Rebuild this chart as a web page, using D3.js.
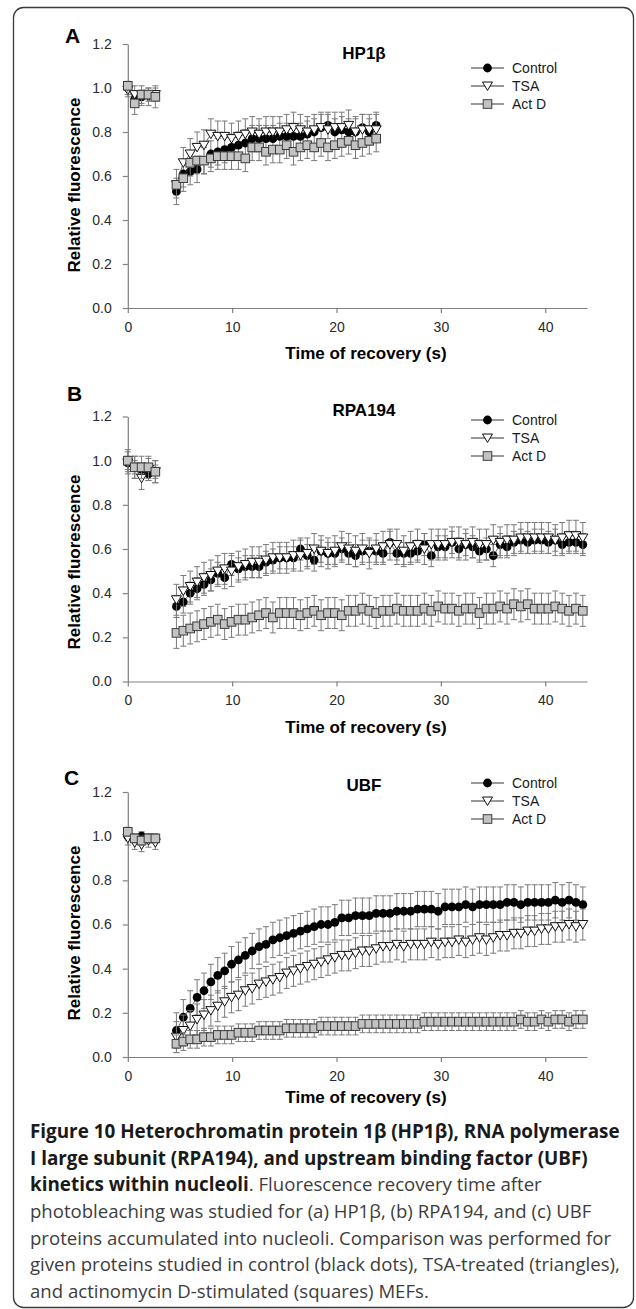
<!DOCTYPE html>
<html>
<head>
<meta charset="utf-8">
<script src="https://cdn.jsdelivr.net/npm/d3@7"></script>
<style>
  body { margin: 0; background: #fff; }
  svg { display: block; }
</style>
</head>
<body>
<div id="container"></div>
<script>

let page_width = 636;
let page_height = 1309;

// sampling times (s): 5 pre-bleach frames, then recovery frames
let pre_times = [0, 0.66, 1.32, 1.98, 2.64];
let post_times = [4.66, 5.32, 5.98, 6.64, 7.30, 7.96, 8.62, 9.28, 9.94, 10.60,
  11.26, 11.92, 12.58, 13.24, 13.90, 14.56, 15.22, 15.88, 16.54, 17.20,
  17.86, 18.52, 19.18, 19.84, 20.50, 21.16, 21.82, 22.48, 23.14, 23.80,
  24.46, 25.12, 25.78, 26.44, 27.10, 27.76, 28.42, 29.08, 29.74, 30.40,
  31.06, 31.72, 32.38, 33.04, 33.70, 34.36, 35.02, 35.68, 36.34, 37.00,
  37.66, 38.32, 38.98, 39.64, 40.30, 40.96, 41.62, 42.28, 42.94, 43.60];

let series_names = ["Control", "TSA", "Act D"];
let x_ticks = [0, 10, 20, 30, 40];
let y_ticks = [0, 0.2, 0.4, 0.6, 0.8, 1.0, 1.2];

// A - HP1b
let hp1_pre_control = [1.00, 0.95, 0.96, 0.97, 0.97];
let hp1_pre_tsa = [0.99, 0.97, 0.97, 0.96, 0.97];
let hp1_pre_actd = [1.01, 0.93, 0.97, 0.97, 0.96];
let hp1_control = [0.53, 0.61, 0.62, 0.63, 0.67, 0.70, 0.71, 0.72, 0.73, 0.74,
  0.75, 0.77, 0.77, 0.77, 0.77, 0.78, 0.78, 0.78, 0.78, 0.79,
  0.80, 0.82, 0.83, 0.80, 0.81, 0.80, 0.80, 0.82, 0.80, 0.83];
let hp1_tsa = [0.56, 0.66, 0.70, 0.73, 0.74, 0.79, 0.78, 0.78, 0.77, 0.78,
  0.79, 0.80, 0.79, 0.80, 0.80, 0.80, 0.81, 0.82, 0.81, 0.80,
  0.81, 0.82, 0.81, 0.82, 0.82, 0.83, 0.80, 0.81, 0.81, 0.81];
let hp1_actd = [0.56, 0.59, 0.66, 0.67, 0.67, 0.68, 0.69, 0.69, 0.69, 0.69,
  0.68, 0.73, 0.73, 0.71, 0.72, 0.72, 0.74, 0.71, 0.73, 0.74,
  0.73, 0.75, 0.73, 0.74, 0.75, 0.76, 0.74, 0.75, 0.76, 0.77];
let hp1_pre_err = [0.03, 0.04, 0.05];
let hp1_err = [0.06, 0.07, 0.06];

// B - RPA194
let rpa_pre_control = [0.99, 0.97, 0.96, 0.94, 0.95];
let rpa_pre_tsa = [0.99, 0.97, 0.92, 0.96, 0.95];
let rpa_pre_actd = [1.00, 0.97, 0.97, 0.97, 0.95];
let rpa_control = [0.34, 0.36, 0.40, 0.42, 0.44, 0.46, 0.49, 0.47, 0.53, 0.51,
  0.52, 0.52, 0.52, 0.54, 0.55, 0.56, 0.56, 0.56, 0.60, 0.57,
  0.55, 0.59, 0.58, 0.58, 0.60, 0.58, 0.57, 0.59, 0.59, 0.59,
  0.58, 0.63, 0.58, 0.58, 0.58, 0.59, 0.62, 0.57, 0.61, 0.61,
  0.63, 0.60, 0.62, 0.61, 0.59, 0.60, 0.57, 0.62, 0.61, 0.63,
  0.64, 0.63, 0.64, 0.64, 0.63, 0.64, 0.62, 0.63, 0.63, 0.62];
let rpa_tsa = [0.37, 0.41, 0.43, 0.45, 0.47, 0.48, 0.50, 0.51, 0.50, 0.52,
  0.53, 0.54, 0.54, 0.55, 0.56, 0.56, 0.56, 0.57, 0.57, 0.58,
  0.60, 0.59, 0.58, 0.59, 0.61, 0.60, 0.59, 0.60, 0.58, 0.60,
  0.61, 0.62, 0.62, 0.59, 0.61, 0.62, 0.60, 0.62, 0.62, 0.62,
  0.63, 0.63, 0.62, 0.63, 0.62, 0.62, 0.64, 0.63, 0.64, 0.64,
  0.65, 0.65, 0.65, 0.65, 0.65, 0.64, 0.65, 0.66, 0.66, 0.65];
let rpa_actd = [0.22, 0.23, 0.24, 0.25, 0.26, 0.27, 0.28, 0.26, 0.27, 0.28,
  0.28, 0.29, 0.30, 0.31, 0.29, 0.31, 0.31, 0.31, 0.30, 0.31,
  0.32, 0.30, 0.31, 0.31, 0.30, 0.32, 0.32, 0.33, 0.32, 0.31,
  0.32, 0.32, 0.33, 0.32, 0.32, 0.32, 0.33, 0.32, 0.34, 0.33,
  0.33, 0.32, 0.33, 0.33, 0.31, 0.33, 0.33, 0.34, 0.33, 0.35,
  0.34, 0.35, 0.33, 0.33, 0.33, 0.34, 0.33, 0.32, 0.33, 0.32];
let rpa_pre_err = [0.03, 0.05, 0.05];
let rpa_err = [0.05, 0.07, 0.07];

// C - UBF
let ubf_pre_control = [1.00, 0.99, 1.00, 0.99, 0.99];
let ubf_pre_tsa = [0.99, 0.97, 0.96, 0.98, 0.97];
let ubf_pre_actd = [1.02, 0.99, 0.98, 0.99, 0.99];
let ubf_control = [0.12, 0.18, 0.22, 0.27, 0.30, 0.34, 0.37, 0.39, 0.42, 0.44,
  0.46, 0.48, 0.50, 0.51, 0.53, 0.54, 0.55, 0.56, 0.57, 0.58,
  0.59, 0.60, 0.60, 0.61, 0.63, 0.63, 0.64, 0.64, 0.64, 0.65,
  0.65, 0.65, 0.66, 0.66, 0.66, 0.67, 0.67, 0.67, 0.66, 0.68,
  0.68, 0.68, 0.69, 0.68, 0.69, 0.69, 0.69, 0.69, 0.70, 0.70,
  0.69, 0.70, 0.70, 0.70, 0.70, 0.71, 0.70, 0.71, 0.70, 0.69];
let ubf_tsa = [0.09, 0.12, 0.14, 0.17, 0.19, 0.21, 0.23, 0.25, 0.27, 0.28,
  0.30, 0.31, 0.33, 0.34, 0.35, 0.36, 0.38, 0.39, 0.40, 0.41,
  0.42, 0.43, 0.44, 0.45, 0.46, 0.46, 0.47, 0.48, 0.48, 0.49,
  0.50, 0.50, 0.51, 0.50, 0.51, 0.51, 0.51, 0.52, 0.51, 0.52,
  0.52, 0.53, 0.52, 0.53, 0.54, 0.53, 0.54, 0.55, 0.55, 0.56,
  0.56, 0.57, 0.57, 0.58, 0.58, 0.59, 0.59, 0.60, 0.59, 0.60];
let ubf_actd = [0.06, 0.07, 0.08, 0.08, 0.09, 0.09, 0.10, 0.10, 0.10, 0.11,
  0.11, 0.11, 0.12, 0.12, 0.12, 0.12, 0.13, 0.13, 0.13, 0.13,
  0.13, 0.14, 0.14, 0.14, 0.14, 0.14, 0.14, 0.15, 0.15, 0.15,
  0.15, 0.15, 0.15, 0.15, 0.15, 0.15, 0.16, 0.16, 0.16, 0.16,
  0.16, 0.16, 0.16, 0.16, 0.16, 0.16, 0.16, 0.16, 0.16, 0.16,
  0.17, 0.16, 0.16, 0.17, 0.16, 0.17, 0.17, 0.16, 0.17, 0.17];
let ubf_pre_err = [0.02, 0.03, 0.02];
let ubf_err = [0.08, 0.07, 0.04];

let caption_lines = [
  [["Figure 10 Heterochromatin protein 1\u03b2 (HP1\u03b2), RNA polymerase", true]],
  [["I large subunit (RPA194), and upstream binding factor (UBF)", true]],
  [["kinetics within nucleoli", true], [". Fluorescence recovery time after", false]],
  [["photobleaching was studied for (a) HP1\u03b2, (b) RPA194, and (c) UBF", false]],
  [["proteins accumulated into nucleoli. Comparison was performed for", false]],
  [["given proteins studied in control (black dots), TSA-treated (triangles),", false]],
  [["and actinomycin D-stimulated (squares) MEFs.", false]]
];

let panels = [
  { letter: "A", title: "HP1\u03b2",
    pre: [hp1_pre_control, hp1_pre_tsa, hp1_pre_actd],
    post: [hp1_control, hp1_tsa, hp1_actd],
    pre_err: hp1_pre_err, err: hp1_err, err_dir: ["both", "up", "down"],
    top: 44, bottom: 308, letter_pos: [65, 43], title_y: 59,
    legend_y: 68, ytitle_y: 185, xtitle_y: 359 },
  { letter: "B", title: "RPA194",
    pre: [rpa_pre_control, rpa_pre_tsa, rpa_pre_actd],
    post: [rpa_control, rpa_tsa, rpa_actd],
    pre_err: rpa_pre_err, err: rpa_err, err_dir: ["both", "both", "both"],
    top: 416.5, bottom: 681.5, letter_pos: [67, 401], title_y: 416,
    legend_y: 420, ytitle_y: 562, xtitle_y: 733 },
  { letter: "C", title: "UBF",
    pre: [ubf_pre_control, ubf_pre_tsa, ubf_pre_actd],
    post: [ubf_control, ubf_tsa, ubf_actd],
    pre_err: ubf_pre_err, err: ubf_err, err_dir: ["both", "both", "both"],
    top: 792, bottom: 1057, letter_pos: [64, 785], title_y: 791,
    legend_y: 783, ytitle_y: 933, xtitle_y: 1103 }
];

let chart_font = "'Liberation Sans', Arial, sans-serif";
let axis_color = "#808080";
let err_color = "#7a7a7a";

let x = d3.scaleLinear().domain([0, 44]).range([127.8, 587]);

function draw_marker(sel, s) {
  if (s == 0) {
    sel.append("circle").attr("r", 4.4).attr("fill", "#000");
  } else if (s == 1) {
    sel.append("path").attr("d", "M-5,-4L5,-4L0,4.5Z")
      .attr("fill", "#fff").attr("stroke", "#111").attr("stroke-width", 1);
  } else {
    sel.append("rect").attr("x", -4.3).attr("y", -4.3).attr("width", 8.6).attr("height", 8.6)
      .attr("fill", "#c3c3c3").attr("stroke", "#3c3c3c").attr("stroke-width", 1);
  }
}

function render() {
  let svg = d3.select("#container")
    .append("svg")
    .attr("width", page_width)
    .attr("height", page_height)
    .style("font-family", chart_font);

  svg.append("rect")
    .attr("x", 13.5).attr("y", 7.5)
    .attr("width", 620).attr("height", 1300)
    .attr("rx", 10)
    .attr("fill", "#fff")
    .attr("stroke", "#3a3a3a")
    .attr("stroke-width", 1.3);

  panels.forEach(function (p) {
    let y = d3.scaleLinear().domain([0, 1.2]).range([p.bottom, p.top]);
    let g = svg.append("g");

    // axes
    let ax = g.append("g")
      .attr("transform", "translate(0," + p.bottom + ")")
      .call(d3.axisBottom(x).tickValues(x_ticks).tickSize(5).tickSizeOuter(0).tickPadding(9));
    let ay = g.append("g")
      .attr("transform", "translate(" + x(0) + ",0)")
      .call(d3.axisLeft(y).tickValues(y_ticks).tickFormat(d3.format(".1f"))
        .tickSize(5).tickSizeOuter(0).tickPadding(11));
    [ax, ay].forEach(function (a) {
      a.select(".domain").attr("stroke", axis_color).attr("stroke-width", 1.2);
      a.selectAll(".tick line").attr("stroke", axis_color).attr("stroke-width", 1.2);
      a.selectAll(".tick text").attr("fill", "#2a2a2a")
        .style("font-size", "14px").style("font-family", chart_font);
    });

    // series
    for (let s = 0; s < 3; s++) {
      let segs = [
        pre_times.map(function (t, i) { return { t: t, v: p.pre[s][i], e: p.pre_err[s] }; }),
        post_times.slice(0, p.post[s].length).map(function (t, i) { return { t: t, v: p.post[s][i], e: p.err[s] }; })
      ];
      let sg = g.append("g");
      let dir = p.err_dir[s];

      segs.forEach(function (pts) {
        let eb = sg.append("g").selectAll("g")
          .data(pts).enter().append("g")
          .attr("stroke", err_color).attr("stroke-width", 1);
        eb.append("line")
          .attr("x1", function (d) { return x(d.t); })
          .attr("x2", function (d) { return x(d.t); })
          .attr("y1", function (d) { return y(dir == "up" ? d.v : d.v - d.e); })
          .attr("y2", function (d) { return y(dir == "down" ? d.v : d.v + d.e); });
        if (dir != "down") {
          eb.append("line")
            .attr("x1", function (d) { return x(d.t) - 3; })
            .attr("x2", function (d) { return x(d.t) + 3; })
            .attr("y1", function (d) { return y(d.v + d.e); })
            .attr("y2", function (d) { return y(d.v + d.e); });
        }
        if (dir != "up") {
          eb.append("line")
            .attr("x1", function (d) { return x(d.t) - 3; })
            .attr("x2", function (d) { return x(d.t) + 3; })
            .attr("y1", function (d) { return y(d.v - d.e); })
            .attr("y2", function (d) { return y(d.v - d.e); });
        }

        sg.append("path")
          .datum(pts)
          .attr("fill", "none")
          .attr("stroke", "#444")
          .attr("stroke-width", 0.8)
          .attr("d", d3.line().x(function (d) { return x(d.t); }).y(function (d) { return y(d.v); }));

        sg.append("g").selectAll("g")
          .data(pts).enter().append("g")
          .attr("transform", function (d) { return "translate(" + x(d.t) + "," + y(d.v) + ")"; })
          .each(function () { draw_marker(d3.select(this), s); });
      });
    }

    // legend
    series_names.forEach(function (name, s) {
      let ly = p.legend_y + s * 18;
      g.append("line")
        .attr("x1", 471).attr("x2", 504).attr("y1", ly).attr("y2", ly)
        .attr("stroke", "#333").attr("stroke-width", 1);
      let m = g.append("g").attr("transform", "translate(487.5," + ly + ")");
      draw_marker(m, s);
      g.append("text")
        .attr("x", 512).attr("y", ly + 5)
        .attr("fill", "#1a1a1a")
        .style("font-size", "14px")
        .text(name);
    });

    // titles and labels
    g.append("text")
      .attr("x", p.letter_pos[0]).attr("y", p.letter_pos[1])
      .style("font-size", "21px").style("font-weight", "bold")
      .text(p.letter);
    g.append("text")
      .attr("x", 364).attr("y", p.title_y)
      .attr("text-anchor", "middle")
      .style("font-size", "17px").style("font-weight", "bold")
      .text(p.title);
    g.append("text")
      .attr("transform", "translate(80," + p.ytitle_y + ") rotate(-90)")
      .attr("text-anchor", "middle")
      .style("font-size", "17px").style("font-weight", "bold")
      .text("Relative fluorescence");
    g.append("text")
      .attr("x", 366).attr("y", p.xtitle_y)
      .attr("text-anchor", "middle")
      .style("font-size", "17px").style("font-weight", "bold")
      .text("Time of recovery (s)");
  });

  // caption
  let cap = svg.append("g").style("font-family", "'Open Sans', 'Noto Sans', sans-serif");
  let cap_lines = caption_lines.map(function (parts, i) {
    let t = cap.append("text")
      .attr("x", 30)
      .attr("y", 1138 + i * 26.67)
      .style("font-size", "18px");
    parts.forEach(function (part) {
      t.append("tspan")
        .attr("class", part[1] ? "cap-bold" : "cap-reg")
        .style("font-weight", part[1] ? "bold" : "normal")
        .attr("fill", part[1] ? "#1a1a1a" : "#3d3d3d")
        .text(part[0]);
    });
    return t;
  });
  // fit bold and regular runs to the measured line widths
  let bold_len = cap_lines[0].node().getComputedTextLength();
  let reg_len = cap_lines[5].node().getComputedTextLength();
  cap.selectAll(".cap-bold").style("font-size", (18 * 590 / bold_len) + "px");
  cap.selectAll(".cap-reg").style("font-size", (18 * 590 / reg_len) + "px");
}

render()
</script>
</body>
</html>
